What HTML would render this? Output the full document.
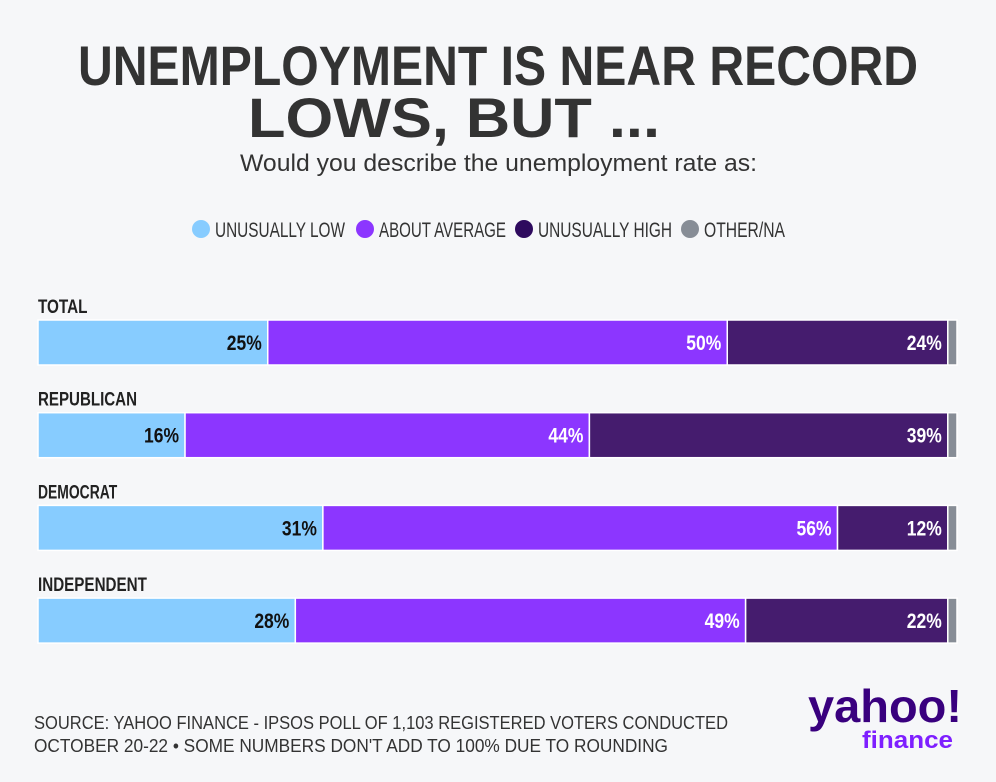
<!DOCTYPE html>
<html><head><meta charset="utf-8"><style>
html,body{margin:0;padding:0;background:#f6f7f9;}
svg{display:block;font-family:"Liberation Sans",sans-serif;}
</style></head><body>
<svg id="chart" width="996" height="782" viewBox="0 0 996 782">
<rect x="0" y="0" width="996" height="782" fill="#f6f7f9"/>
<text x="78" y="85" font-size="56" font-weight="bold" fill="#333" textLength="840" lengthAdjust="spacingAndGlyphs">UNEMPLOYMENT IS NEAR RECORD</text>
<text x="248" y="137" font-size="56" font-weight="bold" fill="#333" textLength="412" lengthAdjust="spacingAndGlyphs">LOWS, BUT ...</text>
<text x="240" y="171" font-size="24" fill="#333" textLength="517" lengthAdjust="spacingAndGlyphs">Would you describe the unemployment rate as:</text>
<g id="legend"></g>
<g id="bars"></g>
<text x="34" y="729" font-size="18" fill="#333" textLength="694" lengthAdjust="spacingAndGlyphs">SOURCE: YAHOO FINANCE - IPSOS POLL OF 1,103 REGISTERED VOTERS CONDUCTED</text>
<text x="34" y="752" font-size="18" fill="#333" textLength="634" lengthAdjust="spacingAndGlyphs">OCTOBER 20-22 • SOME NUMBERS DON'T ADD TO 100% DUE TO ROUNDING</text>
<g>
<text x="808" y="722" font-size="46" font-weight="bold" fill="#39007e" textLength="154" lengthAdjust="spacingAndGlyphs">yahoo!</text>
<text x="862" y="748" font-size="24" font-weight="bold" fill="#7e1fff" textLength="91" lengthAdjust="spacingAndGlyphs">finance</text>
</g>
</svg>
<script>
const groups = ["TOTAL","REPUBLICAN","DEMOCRAT","INDEPENDENT"];
const unusuallyLow = [25,16,31,28];
const aboutAverage = [50,44,56,49];
const unusuallyHigh = [24,39,12,22];
const otherNA = [1,1,1,1];
const seriesNames = ["UNUSUALLY LOW","ABOUT AVERAGE","UNUSUALLY HIGH","OTHER/NA"];

const NS="http://www.w3.org/2000/svg";
const colors=["#87ccff","#8c36ff","#451c6e","#878d96"];
const dotColors=["#87ccff","#8c36ff","#2e0a5e","#878d96"];
const textColors=["#111","#fff","#fff",null];
const x0=38, plotW=919, total=100;
const xs=v=>v/total*plotW;
const rowY=i=>320+i*92.7;
const barH=45;
function mk(tag,attrs,parent){const e=document.createElementNS(NS,tag);for(const k in attrs)e.setAttribute(k,attrs[k]);parent.appendChild(e);return e;}

const lg=document.getElementById('legend');
const legX=[201,365,524,690], legW=[130,127,134,81];
seriesNames.forEach((n,i)=>{
  const c=mk('circle',{cx:legX[i],cy:229,r:9,fill:dotColors[i]},lg);
  
  
  const t=mk('text',{x:legX[i]+14,y:237,'font-size':21,fill:'#333',textLength:legW[i],lengthAdjust:'spacingAndGlyphs'},lg);
  t.textContent=n;
  
  
});

const bg=document.getElementById('bars');
const series=[unusuallyLow,aboutAverage,unusuallyHigh,otherNA];
groups.forEach((g,i)=>{
  const y=rowY(i);
  const lab=mk('text',{x:38,y:y-7,'font-size':19,'font-weight':'bold',fill:'#222',textLength:g.length*9.9,lengthAdjust:'spacingAndGlyphs'},bg);
  lab.textContent=g;
  
  
  let acc=0;
  series.forEach((s,k)=>{
    const v=s[i];
    const xa=x0+xs(acc), w=xs(v);
    const r=mk('rect',{x:xa,y:y,width:w,height:barH,fill:colors[k],stroke:'#fff','stroke-width':1.5},bg);
    
    
    if(textColors[k]){
      const t=mk('text',{x:xa+w-6,y:y+30,'font-size':21,'font-weight':'bold',fill:textColors[k],'text-anchor':'end',textLength:String(v).length*10+15,lengthAdjust:'spacingAndGlyphs'},bg);
      t.textContent=v+'%';
      
      
    }
    acc+=v;
  });
});
</script>
</body></html>
